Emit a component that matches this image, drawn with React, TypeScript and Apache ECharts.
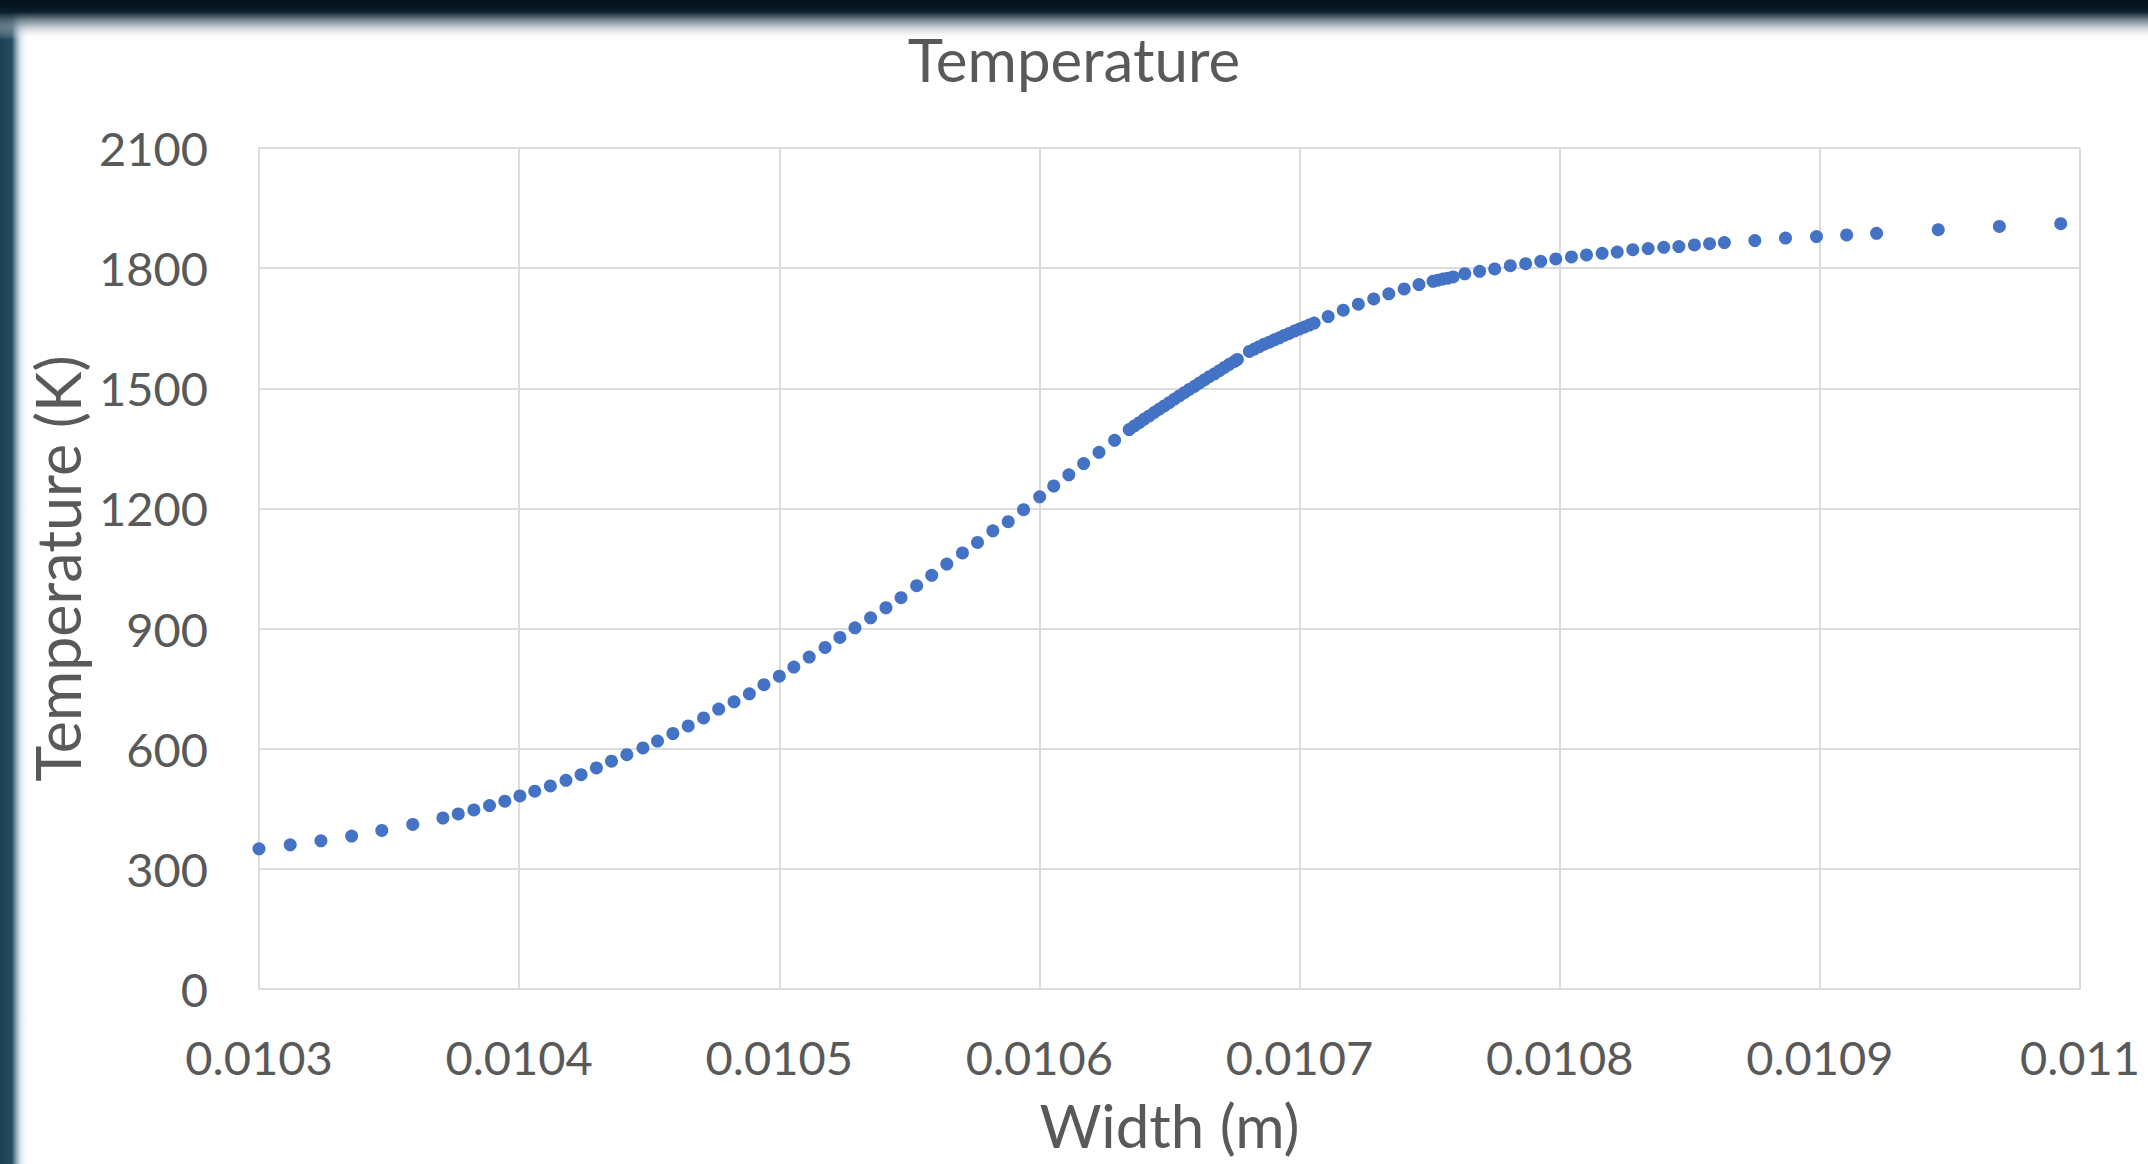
import React, { useEffect, useRef } from "react";
import * as echarts from "echarts";

const chartTitle = "Temperature";
const xAxisTitle = "Width (m)";
const yAxisTitle = "Temperature (K)";

const xTickValues = [0.0103, 0.0104, 0.0105, 0.0106, 0.0107, 0.0108, 0.0109, 0.011];
const yTickValues = [0, 300, 600, 900, 1200, 1500, 1800, 2100];

const widthM = [
  0.0103, 0.010312, 0.0103238, 0.0103356, 0.0103472, 0.0103591,
  0.0103707, 0.0103766, 0.0103826, 0.0103886, 0.0103945, 0.0104003, 0.010406, 0.010412,
  0.010418, 0.0104238, 0.0104297, 0.0104355, 0.0104414, 0.0104476, 0.0104532, 0.0104591,
  0.010465, 0.0104709, 0.0104767, 0.0104826, 0.0104885, 0.0104941, 0.0105, 0.0105056,
  0.0105115, 0.0105176, 0.0105233, 0.0105291, 0.0105351, 0.010541, 0.0105468, 0.0105528,
  0.0105586, 0.0105644, 0.0105704, 0.0105762, 0.0105821, 0.010588, 0.0105939,
  0.0106001, 0.0106055, 0.0106113, 0.010617, 0.0106229, 0.0106289,
  0.0106345, 0.0106365, 0.0106384, 0.0106403, 0.0106422, 0.0106442, 0.0106461, 0.010648,
  0.0106499, 0.0106519, 0.0106538, 0.0106557, 0.0106576, 0.0106596, 0.0106615, 0.0106634,
  0.0106653, 0.0106673, 0.0106692, 0.0106711, 0.010673, 0.010675, 0.0106761,
  0.0106807, 0.0106826, 0.0106845, 0.0106864, 0.0106884, 0.0106903, 0.0106922, 0.0106941,
  0.010696, 0.010698, 0.0106999, 0.0107018, 0.0107037, 0.0107056,
  0.010711, 0.0107168, 0.0107226, 0.0107285, 0.0107343, 0.0107402, 0.0107459,
  0.0107513, 0.0107532, 0.0107551, 0.010757, 0.010759,
  0.0107635, 0.0107692, 0.010775, 0.010781, 0.0107869, 0.0107927, 0.0107985, 0.0108045,
  0.0108103, 0.0108163, 0.0108221, 0.0108281, 0.010834, 0.01084, 0.0108458, 0.0108518,
  0.0108576, 0.0108633, 0.010875, 0.0108868, 0.0108987, 0.0109103, 0.0109218, 0.0109455,
  0.010969, 0.0109926,
];

const temperatureK = [
  350, 360, 370, 382, 396, 411,
  427, 437, 447, 458, 469, 482, 494, 507,
  521, 535, 552, 569, 585, 602, 619, 638,
  657, 677, 699, 717, 737, 760, 781, 804,
  829, 853, 878, 902, 927, 952, 977, 1007,
  1033, 1061, 1089, 1115, 1144, 1167, 1197,
  1229, 1256, 1284, 1312, 1340, 1370,
  1397, 1406, 1414, 1423, 1431, 1440, 1448, 1456,
  1464, 1473, 1481, 1489, 1497, 1505, 1513, 1521,
  1529, 1536, 1544, 1552, 1560, 1567, 1572,
  1592, 1598, 1604, 1610, 1615, 1621, 1626, 1632,
  1637, 1643, 1648, 1653, 1658, 1663,
  1679, 1695, 1710, 1723, 1736, 1748, 1759,
  1767, 1770, 1773, 1775, 1778,
  1786, 1792, 1798, 1806, 1811, 1817, 1823, 1828,
  1833, 1837, 1840, 1846, 1849, 1852, 1854, 1858,
  1861, 1864, 1869, 1875, 1879, 1883, 1887, 1896,
  1904, 1911,
];

const FONT = "Lato";
const TEXT_COLOR = "#595959";
const GRID_COLOR = "#dcdcdc";

export default function App() {
  const ref = useRef<HTMLDivElement | null>(null);

  useEffect(() => {
    if (!ref.current) return;
    const chart = echarts.init(ref.current, undefined, { renderer: "svg" });
    const points = widthM.map((x, i) => [x, temperatureK[i]]);
    chart.setOption({
      animation: false,
      backgroundColor: "#ffffff",
      graphic: [
        {
          type: "rect",
          silent: true,
          z: -20,
          shape: { x: 0, y: 0, width: 30, height: 1164 },
          style: {
            fill: new echarts.graphic.LinearGradient(0, 0, 1, 0, [
              { offset: 0, color: "#1c3f52" },
              { offset: 0.4, color: "#244e64" },
              { offset: 0.7, color: "rgba(200,214,222,0.6)" },
              { offset: 1, color: "rgba(255,255,255,0)" },
            ]),
          },
        },
        {
          type: "rect",
          silent: true,
          z: -15,
          shape: { x: 0, y: 0, width: 2148, height: 40 },
          style: {
            fill: new echarts.graphic.LinearGradient(0, 0, 0, 1, [
              { offset: 0, color: "#03111a" },
              { offset: 0.3, color: "#0a1e2b" },
              { offset: 0.6, color: "rgba(120,140,150,0.7)" },
              { offset: 1, color: "rgba(255,255,255,0)" },
            ]),
          },
        },
      ],
      title: {
        text: chartTitle,
        left: "center",
        top: 24,
        textStyle: { fontFamily: FONT, fontSize: 60, fontWeight: "normal", color: TEXT_COLOR },
      },
      grid: { left: 259, right: 68, top: 148, bottom: 175, outerBoundsMode: "none" },
      xAxis: {
        type: "value",
        min: xTickValues[0],
        max: xTickValues[xTickValues.length - 1],
        interval: 0.0001,
        name: xAxisTitle,
        nameLocation: "middle",
        nameGap: 106,
        nameTextStyle: { fontFamily: FONT, fontSize: 60, color: TEXT_COLOR },
        axisLine: { show: true, lineStyle: { color: GRID_COLOR, width: 2 } },
        axisTick: { show: false },
        axisLabel: {
          margin: 44,
          fontFamily: FONT,
          fontSize: 47,
          color: TEXT_COLOR,
          formatter: (v: number) => String(parseFloat(v.toFixed(4))),
        },
        splitLine: { show: true, lineStyle: { color: GRID_COLOR, width: 2 } },
      },
      yAxis: {
        type: "value",
        min: yTickValues[0],
        max: yTickValues[yTickValues.length - 1],
        interval: 300,
        name: yAxisTitle,
        nameLocation: "middle",
        nameGap: 163,
        nameRotate: 90,
        nameTextStyle: { fontFamily: FONT, fontSize: 61, color: TEXT_COLOR },
        axisLine: { show: true, lineStyle: { color: GRID_COLOR, width: 2 } },
        axisTick: { show: false },
        axisLabel: {
          margin: 51,
          fontFamily: FONT,
          fontSize: 47,
          color: TEXT_COLOR,
          formatter: (v: number) => String(v),
        },
        splitLine: { show: true, lineStyle: { color: GRID_COLOR, width: 2 } },
      },
      series: [
        {
          type: "scatter",
          name: chartTitle,
          symbol: "circle",
          symbolSize: 13,
          itemStyle: { color: "#4472C4", opacity: 1 },
          data: points,
        },
      ],
    });
    return () => chart.dispose();
  }, []);

  return (
    <div
      ref={ref}
      style={{ position: "fixed", left: 0, top: 0, width: "2148px", height: "1164px" }}
    />
  );
}
